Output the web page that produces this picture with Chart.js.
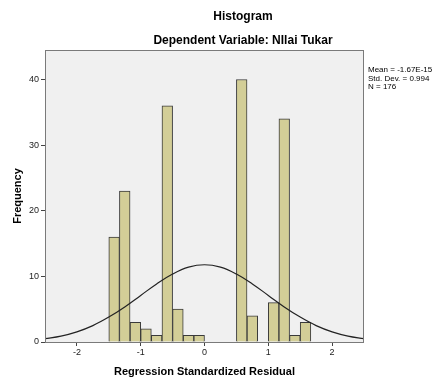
<!DOCTYPE html>
<html>
<head>
<meta charset="utf-8">
<script src="https://cdn.jsdelivr.net/npm/chart.js@4.4.1/dist/chart.umd.min.js"></script>
<style>
  html, body { margin: 0; padding: 0; background: #fff; }
  canvas { display: block; }
</style>
</head>
<body>
<canvas id="hist" width="440" height="383"></canvas>
<script>
// bin centres (bin width 1/6) and counts
const binCenters = [-1.4167, -1.25, -1.0833, -0.9167, -0.75, -0.5833, -0.4167, -0.25, -0.0833,
                    0.5833, 0.75, 1.0833, 1.25, 1.4167, 1.5833];
const binCounts = [16, 23, 3, 2, 1, 36, 5, 1, 1,
                   40, 4, 6, 34, 1, 3];

// normal curve, points
const curveX = [-2.5, -2.25, -2, -1.75, -1.5, -1.25, -1, -0.75, -0.5, -0.25, 0,
                0.25, 0.5, 0.75, 1, 1.25, 1.5, 1.75, 2, 2.25, 2.5];
const curveY = [0.5, 0.9, 1.55, 2.5, 3.8, 5.35, 7.1, 8.85, 10.35, 11.4, 11.77,
                11.4, 10.35, 8.85, 7.1, 5.35, 3.8, 2.5, 1.55, 0.9, 0.5];

const xTicks = [-2, -1, 0, 1, 2];
const yTicks = [0, 10, 20, 30, 40];

const statsLines = ["Mean = -1.67E-15", "Std. Dev. = 0.994", "N = 176"];
const titleText = "Histogram";
const subtitleText = "Dependent Variable: NIlai Tukar";

const barPoints = binCenters.map((x, i) => ({ x: x, y: binCounts[i] }));
const curvePoints = curveX.map((x, i) => ({ x: x, y: curveY[i] }));

const frame = {
    id: 'frame',
    beforeDatasetsDraw(chart) {
        const { ctx, chartArea: a } = chart;
        ctx.save();
        ctx.fillStyle = '#f0f0f0';
        ctx.fillRect(a.left, a.top, a.right - a.left, a.bottom - a.top);
        ctx.restore();
    },
    afterDraw(chart) {
        const { ctx, chartArea: a } = chart;
        ctx.save();
        ctx.strokeStyle = '#7a7a7a';
        ctx.lineWidth = 1;
        ctx.strokeRect(a.left + 0.5, a.top + 0.5, a.right - a.left - 1, a.bottom - a.top);

        ctx.fillStyle = '#000';
        ctx.textAlign = 'center';
        ctx.textBaseline = 'middle';
        ctx.font = 'bold 12px "Liberation Sans", Arial, sans-serif';
        ctx.fillText(titleText, 243, 17);
        ctx.fillText(subtitleText, 243, 41);

        ctx.textAlign = 'left';
        ctx.font = '8px "Liberation Sans", Arial, sans-serif';
        statsLines.forEach((t, i) => ctx.fillText(t, 368, 70 + i * 8.5));
        ctx.restore();
    }
};

new Chart(document.getElementById('hist'), {
    data: {
        datasets: [{
            type: 'line',
            data: curvePoints,
            borderColor: '#222',
            borderWidth: 1.2,
            pointRadius: 0,
            tension: 0.4,
            fill: false,
            order: 0
        }, {
            type: 'bar',
            data: barPoints,
            backgroundColor: '#d3ce97',
            borderColor: '#3a3a3a',
            borderWidth: 1,
            barPercentage: 1,
            categoryPercentage: 1,
            grouped: false,
            order: 1
        }]
    },
    options: {
        responsive: false,
        animation: false,
        devicePixelRatio: 1,
        layout: { padding: { top: 50, right: 76, left: 0, bottom: 0 } },
        plugins: { legend: { display: false }, title: { display: false }, tooltip: { enabled: false } },
        scales: {
            x: {
                type: 'linear',
                min: -2.5,
                max: 2.5,
                offset: false,
                afterFit: s => { s.height = 41; },
                afterBuildTicks: s => { s.ticks = xTicks.map(v => ({ value: v })); },
                grid: { offset: false, drawOnChartArea: false, drawTicks: true, tickLength: 4, color: '#444' },
                border: { display: false },
                ticks: { font: { size: 9, family: '"Liberation Sans", Arial' }, color: '#222', padding: 1, maxRotation: 0 },
                title: {
                    display: true,
                    text: 'Regression Standardized Residual',
                    font: { size: 11, weight: 'bold', family: '"Liberation Sans", Arial' },
                    color: '#000',
                    padding: { top: 0, bottom: 4 }
                }
            },
            y: {
                type: 'linear',
                min: 0,
                max: 44.5,
                afterFit: s => { s.width = 45; },
                afterBuildTicks: s => { s.ticks = yTicks.map(v => ({ value: v })); },
                grid: { offset: false, drawOnChartArea: false, drawTicks: true, tickLength: 4, color: '#444' },
                border: { display: false },
                ticks: { font: { size: 9, family: '"Liberation Sans", Arial' }, color: '#222', padding: 2 },
                title: {
                    display: true,
                    text: 'Frequency',
                    font: { size: 11, weight: 'bold', family: '"Liberation Sans", Arial' },
                    color: '#000',
                    padding: { top: 11, bottom: 0 }
                }
            }
        }
    },
    plugins: [frame]
});
</script>
</body>
</html>
